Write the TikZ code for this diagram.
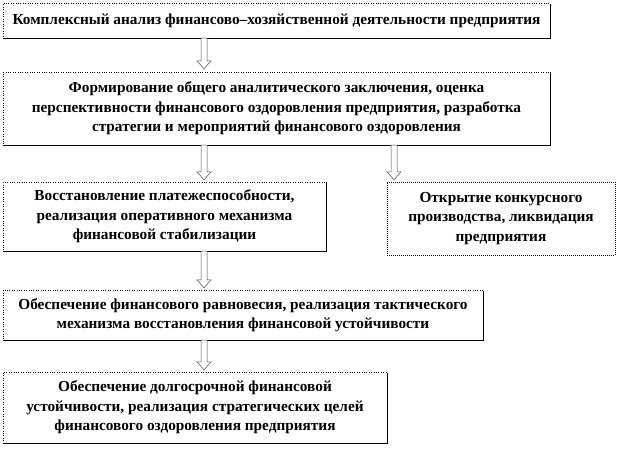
\documentclass[tikz,border=0pt]{standalone}
\usepackage{fontspec}
\setmainfont{Liberation Serif}
\usetikzlibrary{shadows,calc}
\tikzset{
  box/.style={draw, dotted, fill=white, align=center, inner sep=0pt,
    font=\bfseries\fontsize{15.3}{19.5}\selectfont,
    drop shadow={fill=black, opacity=1, shadow xshift=1.3pt, shadow yshift=-1.3pt}},
  boxplain/.style={draw, dashed, dash pattern=on 1pt off 1pt, fill=white, align=center, inner sep=0pt,
    font=\bfseries\fontsize{15.3}{19.5}\selectfont},
  harr/.style={draw=black!70, line width=0.5pt, fill=white}
}
\newcommand\harrow[2]{%
  \path[harr] let \p1=(#1), \p2=(#2) in
    (\x1-3pt,\y1) -- (\x1-3pt,\y2+8pt) -- (\x1-7pt,\y2+8pt) -- (\x1,\y2)
    -- (\x1+7pt,\y2+8pt) -- (\x1+3pt,\y2+8pt) -- (\x1+3pt,\y1) -- cycle;}
\begin{document}
\begin{tikzpicture}[x=1pt,y=-1pt]
\useasboundingbox (0,0) rectangle (618,448);
\node[box, minimum width=547pt, minimum height=35pt] (b1) at (276.5,20.5)
  {Комплексный анализ финансово–хозяйственной деятельности предприятия};
\node[box, minimum width=547pt, minimum height=73pt] (b2) at (276.5,108.5)
  {Формирование общего аналитического заключения, оценка\\перспективности финансового оздоровления предприятия, разработка\\стратегии и мероприятий финансового оздоровления};
\node[box, minimum width=323pt, minimum height=69pt] (b3) at (164.5,216.5)
  {Восстановление платежеспособности,\\реализация оперативного механизма\\финансовой стабилизации};
\node[boxplain, minimum width=228pt, minimum height=73pt] (b4) at (501,218.5)
  {Открытие конкурсного\\производства, ликвидация\\предприятия};
\node[box, minimum width=480pt, minimum height=50pt] (b5) at (243,315)
  {Обеспечение финансового равновесия, реализация тактического\\механизма восстановления финансовой устойчивости};
\node[box, minimum width=384pt, minimum height=71pt] (b6) at (195,407.5)
  {Обеспечение долгосрочной финансовой\\устойчивости, реализация стратегических целей\\финансового оздоровления предприятия};
\coordinate (cl) at (204,0);
\coordinate (cr) at (394,0);
\coordinate (e1) at ($(b2.north -| cl)+(0,-3)$);
\coordinate (e2) at ($(b3.north -| cl)+(0,-2)$);
\coordinate (e3) at ($(b4.north -| cr)+(0,-2)$);
\coordinate (e4) at ($(b5.north -| cl)+(0,-2)$);
\coordinate (e5) at ($(b6.north -| cl)+(0,-2)$);
\harrow{b1.south -| cl}{e1}
\harrow{b2.south -| cl}{e2}
\harrow{b2.south -| cr}{e3}
\harrow{b3.south -| cl}{e4}
\harrow{b5.south -| cl}{e5}
\end{tikzpicture}
\end{document}
